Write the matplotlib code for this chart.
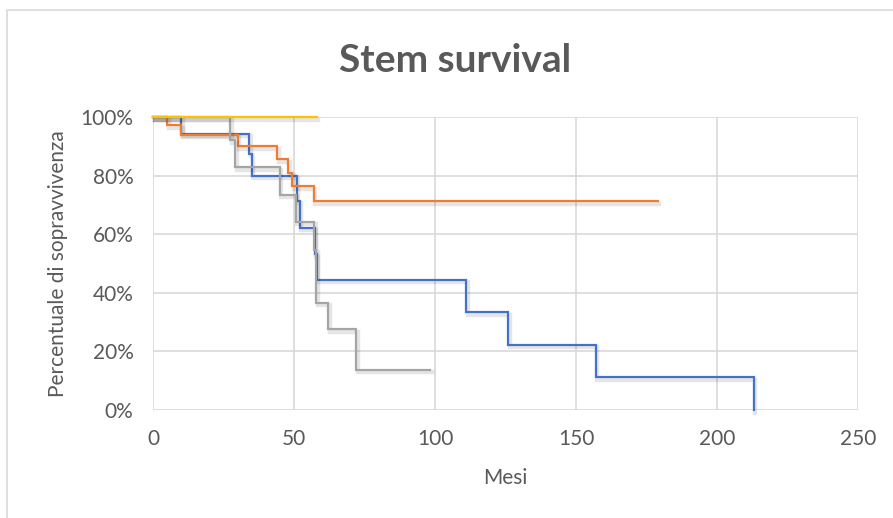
import matplotlib
matplotlib.use("Agg")
import matplotlib.pyplot as plt
import matplotlib.patheffects as pe
from matplotlib.patches import Rectangle
from matplotlib.ticker import PercentFormatter, MultipleLocator

plt.rcParams['font.family'] = ['Lato', 'DejaVu Sans']

# Kaplan-Meier style curves (months, % surviving)
blue_t = [0, 10, 34, 35, 51, 52, 57.3, 58, 111, 126, 157, 213]
blue_s = [100, 94.3, 87.4, 80, 71.4, 62.2, 53.1, 44.4, 33.3, 22.2, 11.1, 0]

orange_t = [0, 5, 10, 30, 44, 48, 49.3, 57, 179]
orange_s = [100, 97.1, 93.9, 90, 85.6, 80.9, 76.3, 71.2, 71.2]

grey_t = [0, 27.3, 29.1, 44.9, 50.6, 57.1, 57.8, 62.1, 72.1, 98.3]
grey_s = [100, 92, 82.8, 73.4, 64.2, 54.7, 36.6, 27.5, 13.7, 13.7]

yellow_t = [0, 58]
yellow_s = [100, 100]

title = "Stem survival"
xlabel = "Mesi"
ylabel = "Percentuale di sopravvivenza"

txt = "#595959"
grid = "#d9d9d9"

fig = plt.figure(figsize=(8.93, 5.18), dpi=100)
fig.patches.append(Rectangle((7 / 893, -0.2), 1.2, 0.2 + 1 - 10 / 518,
                             transform=fig.transFigure, fill=False,
                             edgecolor=grid, lw=1.2))
ax = fig.add_axes([153 / 893, 1 - 410 / 518, 705 / 893, 293 / 518])

shadow = [pe.SimpleLineShadow(offset=(1.2, -1.8), shadow_color="black", alpha=0.1, linewidth=3.2),
          pe.Normal()]

series = [(blue_t, blue_s, "#4472C4"),
          (orange_t, orange_s, "#ED7D31"),
          (grey_t, grey_s, "#A5A5A5"),
          (yellow_t, yellow_s, "#FFC000")]
for t, s, c in series:
    ax.step(t, s, where="post", color=c, lw=1.6, path_effects=shadow,
            solid_joinstyle="miter", zorder=3, clip_on=False)

ax.set_xlim(0, 250)
ax.set_ylim(0, 100)
ax.xaxis.set_major_locator(MultipleLocator(50))
ax.yaxis.set_major_locator(MultipleLocator(20))
ax.yaxis.set_major_formatter(PercentFormatter(100, decimals=0))
ax.grid(True, color=grid, lw=1.2)
ax.set_axisbelow(True)
for sp in ax.spines.values():
    sp.set_visible(False)
ax.tick_params(length=0, labelsize=15, colors=txt, pad=14)

ax.set_xlabel(xlabel, fontsize=15, color=txt, labelpad=13)
ax.set_ylabel(ylabel, fontsize=15, color=txt, labelpad=9)
fig.text(455 / 893, 1 - 72 / 518, title, fontsize=28, fontweight="bold",
         color=txt, ha="center", va="baseline")

fig.savefig("out.png", dpi=100)
